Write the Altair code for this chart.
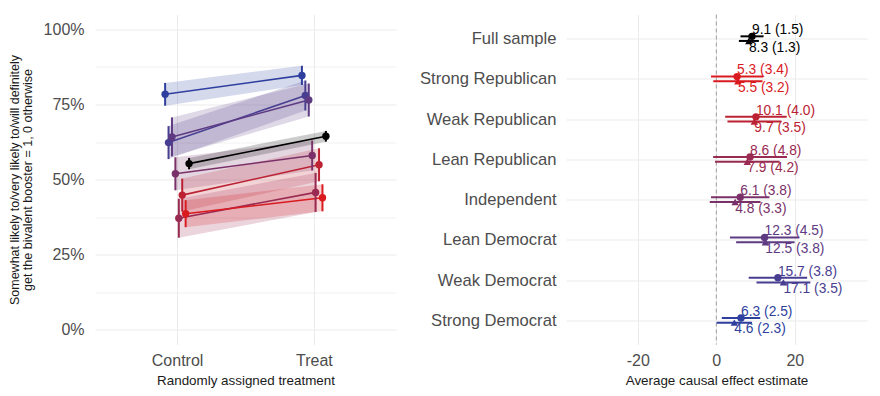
import altair as alt
import pandas as pd

# ---------------- data ----------------
groups = ["Strong Democrat", "Weak Democrat", "Lean Democrat", "Independent",
          "Lean Republican", "Weak Republican", "Strong Republican", "Full sample"]
colors = ["#2E3F9E", "#483E91", "#5E3A82", "#7A3169",
          "#992A51", "#BC2233", "#D91A1F", "#000000"]
conditions = ["Control", "Treat"]
control_mean = [78.4, 62.3, 64.2, 51.9, 37.1, 44.8, 38.6, 55.3]
treat_mean = [84.7, 78.0, 76.5, 58.0, 45.7, 54.9, 43.9, 64.4]
control_ci = [3.8, 5.5, 6.5, 5.5, 6.5, 5.5, 4.5, 1.9]
treat_ci = [3.2, 5.0, 5.5, 5.0, 6.5, 5.5, 4.5, 1.8]

effect_order = ["Full sample", "Strong Republican", "Weak Republican", "Lean Republican",
                "Independent", "Lean Democrat", "Weak Democrat", "Strong Democrat"]
est_1 = [9.1, 5.3, 10.1, 8.6, 6.1, 12.3, 15.7, 6.3]
se_1 = [1.5, 3.4, 4.0, 4.8, 3.8, 4.5, 3.8, 2.5]
est_2 = [8.3, 5.5, 9.7, 7.9, 4.8, 12.5, 17.1, 4.6]
se_2 = [1.3, 3.2, 3.5, 4.2, 3.3, 3.8, 3.5, 2.3]

y_ticks = [0, 12.5, 25, 37.5, 50, 62.5, 75, 87.5, 100]
x_ticks_right = [-20, 0, 20]
zero_line = [0]

# ---------------- tables ----------------
rows = []
for i, g in enumerate(groups):
    for c, (m, ci) in enumerate([(control_mean[i], control_ci[i]), (treat_mean[i], treat_ci[i])]):
        rows.append(dict(group=g, gi=i, cond=c, mean=m, lo=m - ci, hi=m + ci))
left_df = pd.DataFrame(rows)


def est_table(est, se):
    return pd.DataFrame(dict(
        group=effect_order,
        est=est,
        lo=[e - 1.96 * s for e, s in zip(est, se)],
        hi=[e + 1.96 * s for e, s in zip(est, se)],
        label=[f"{e:.1f} ({s:.1f})" for e, s in zip(est, se)],
    ))


r1 = est_table(est_1, se_1)
r2 = est_table(est_2, se_2)

FONT = "Liberation Sans"
GRID = "#EBEBEB"
LABEL = "#4D4D4D"

color = alt.Color("group:N", scale=alt.Scale(domain=groups, range=colors), legend=None)

# ---------------- left panel ----------------
x_label_expr = "datum.value == 0 ? '%s' : '%s'" % (conditions[0], conditions[1])
x_left = alt.X("xpos:Q",
               scale=alt.Scale(domain=[-0.6, 1.6], nice=False, zero=False),
               axis=alt.Axis(values=[0, 1], labelExpr=x_label_expr,
                             title="Randomly assigned treatment", grid=True,
                             domain=False, ticks=False, labelPadding=8, titlePadding=5))
y_axis = alt.Axis(values=y_ticks,
                  labelExpr="datum.value % 25 == 0 ? datum.value + '%' : ''",
                  title=["Somewhat likely to/very likely to/will definitely",
                         "get the bivalent booster = 1, 0 otherwise"],
                  titleFontSize=12.5, titleLineHeight=13,
                  grid=True, domain=False, ticks=False, labelPadding=11, titlePadding=9,
                  gridWidth={"condition": {"test": "datum.value % 25 == 0", "value": 1.1},
                             "value": 0.7})
y_scale = alt.Scale(domain=[-5, 105], nice=False, zero=False)

base = alt.Chart(left_df).transform_calculate(
    xpos="datum.cond + (datum.gi - 3.5) * 0.025")

ribbon = base.mark_area(opacity=0.2).encode(
    x=x_left, y=alt.Y("lo:Q", scale=y_scale, axis=y_axis), y2="hi:Q", color=color,
    detail="group:N")
lines = base.mark_line(strokeWidth=1.6).encode(
    x=x_left, y=alt.Y("mean:Q", scale=y_scale, axis=y_axis), color=color)
bars = base.mark_rule(strokeWidth=2).encode(
    x=x_left, y=alt.Y("lo:Q", scale=y_scale, axis=y_axis), y2="hi:Q", color=color)
pts = base.mark_circle(size=55, opacity=1).encode(
    x=x_left, y=alt.Y("mean:Q", scale=y_scale, axis=y_axis), color=color)

left = alt.layer(ribbon, lines, bars, pts).properties(width=301, height=330)

# ---------------- right panel ----------------
x_right_axis = alt.Axis(values=x_ticks_right, title="Average causal effect estimate",
                        labelExpr="datum.value < 0 ? '-' + abs(datum.value) : '' + datum.value",
                        grid=True, domain=False, ticks=False, labelPadding=8, titlePadding=5)
x_right_scale = alt.Scale(domain=[-38.3, 38.4], nice=False, zero=False)
y_right = alt.Y("group:N", sort=effect_order,
                scale=alt.Scale(type="point", padding=0.6, domain=effect_order),
                axis=alt.Axis(title=None, domain=False, ticks=False, labelPadding=10,
                              labelFontSize=16.6, grid=True))

zero = alt.Chart(pd.DataFrame({"est": zero_line})).mark_rule(
    strokeDash=[4, 3], color="#9E9E9E", strokeWidth=1).encode(
    x=alt.X("est:Q", scale=x_right_scale, axis=x_right_axis))


def est_layers(df, offset, shape, dy):
    b = alt.Chart(df)
    rule = b.mark_rule(strokeWidth=2, yOffset=offset).encode(
        x=alt.X("lo:Q", scale=x_right_scale, axis=x_right_axis), x2="hi:Q",
        y=y_right, color=color)
    if shape == "circle":
        pt = b.mark_circle(size=55, opacity=1, yOffset=offset)
    else:
        pt = b.mark_point(shape="triangle-up", size=55, filled=True, opacity=1, yOffset=offset)
    pt = pt.encode(x=alt.X("est:Q", scale=x_right_scale, axis=x_right_axis),
                   y=y_right, color=color)
    txt = b.mark_text(align="left", baseline="middle", dy=dy, fontSize=13.8, font=FONT).encode(
        x=alt.X("est:Q", scale=x_right_scale, axis=x_right_axis),
        y=y_right, text="label:N", color=color)
    return [rule, pt, txt]


l1 = est_layers(r1, -2.3, "circle", -8.5)
l2 = est_layers(r2, 2.3, "triangle", 9)
right = alt.layer(zero, l1[0], l2[0], l1[1], l2[1], l1[2], l2[2]).properties(
    width=301, height=330)

chart = alt.hconcat(left, right, spacing=23).properties(
    padding={"left": 0, "top": 5.5, "right": 5, "bottom": 5}
).configure_view(stroke=None).configure_axis(
    labelFont=FONT, titleFont=FONT, labelFontSize=16, labelColor=LABEL,
    titleFontSize=13.4, titleFontWeight="normal", titleColor="#1a1a1a",
    gridColor=GRID
)

chart.save("out.html", embed_options={"renderer": "svg", "actions": False})
